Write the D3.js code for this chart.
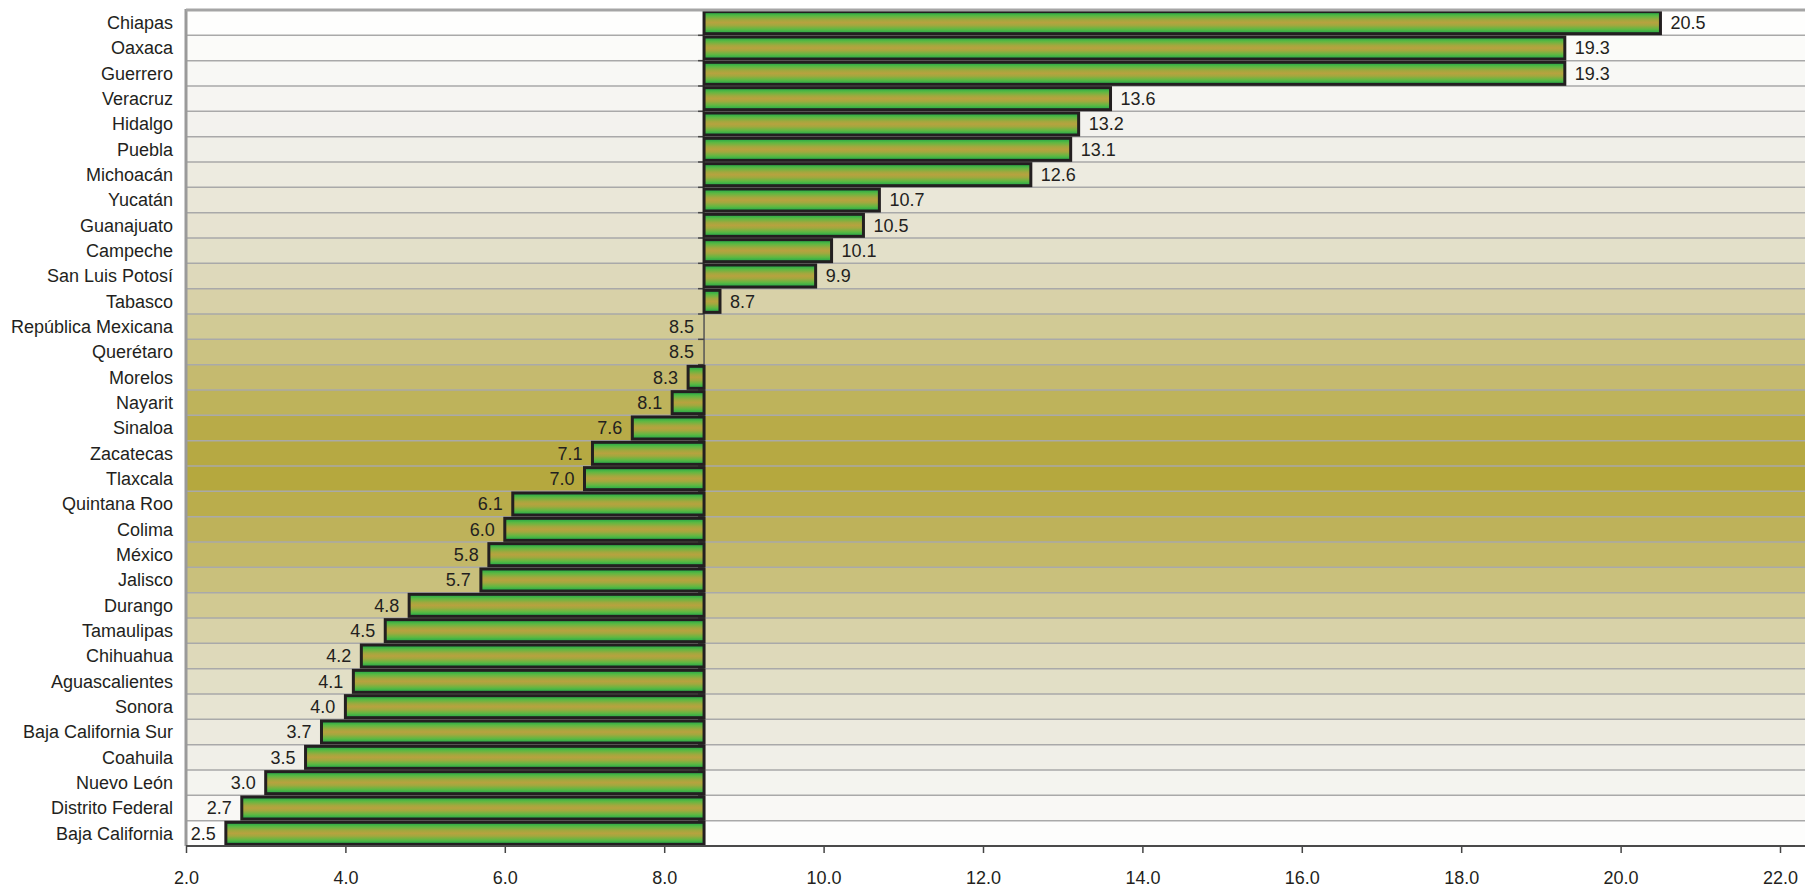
<!DOCTYPE html>
<meta charset="utf-8">
<style>
body { margin: 0; background: #fff; }
text { font-family: "Liberation Sans", Arial, sans-serif; fill: #231f20; }
</style>
<svg width="1805" height="887"></svg>
<script src="https://cdn.jsdelivr.net/npm/d3@7"></script>
<script>

var states = ["Chiapas", "Oaxaca", "Guerrero", "Veracruz", "Hidalgo", "Puebla", "Michoacán",
  "Yucatán", "Guanajuato", "Campeche", "San Luis Potosí", "Tabasco", "República Mexicana",
  "Querétaro", "Morelos", "Nayarit", "Sinaloa", "Zacatecas", "Tlaxcala", "Quintana Roo",
  "Colima", "México", "Jalisco", "Durango", "Tamaulipas", "Chihuahua", "Aguascalientes",
  "Sonora", "Baja California Sur", "Coahuila", "Nuevo León", "Distrito Federal", "Baja California"];

var values = [20.5, 19.3, 19.3, 13.6, 13.2, 13.1, 12.6, 10.7, 10.5, 10.1, 9.9, 8.7, 8.5,
  8.5, 8.3, 8.1, 7.6, 7.1, 7.0, 6.1, 6.0, 5.8, 5.7, 4.8, 4.5, 4.2, 4.1,
  4.0, 3.7, 3.5, 3.0, 2.7, 2.5];

var xTicks = [2, 4, 6, 8, 10, 12, 14, 16, 18, 20, 22];
var baseValue = 8.5;

var rows = states.map(function(s, i) { return {state: s, value: values[i]}; });

var svg = d3.select("svg"),
    plotLeft = 186, plotTop = 10, plotBottom = 846, plotRight = 1805;

var x = d3.scaleLinear().domain([2, 22]).range([plotLeft, 1780]);
var y = d3.scaleBand().domain(states).range([plotTop, plotBottom]).paddingInner(0.13).paddingOuter(0.065);

// row backgrounds (banded gradient)
var bg = d3.scaleLinear()
    .domain([0, 0.15, 0.3, 0.4, 0.5, 0.56, 0.66, 0.76, 0.88, 1])
    .range(["#ffffff", "#f2f1ec", "#e2dec6", "#cdc488", "#b8ab48", "#b5a83e", "#c4b96c", "#dcd7b5", "#eeede5", "#ffffff"]);

var step = (plotBottom - plotTop) / states.length;
svg.append("g").selectAll("rect")
  .data(states)
  .enter().append("rect")
    .attr("x", plotLeft)
    .attr("y", function(d, i) { return plotTop + i * step; })
    .attr("width", plotRight - plotLeft)
    .attr("height", step)
    .style("fill", function(d, i) { return bg((i + 0.5) / states.length); });

// grid lines between rows
svg.append("g").selectAll("line")
  .data(d3.range(1, states.length))
  .enter().append("line")
    .attr("x1", plotLeft).attr("x2", plotRight)
    .attr("y1", function(i) { return plotTop + i * step; })
    .attr("y2", function(i) { return plotTop + i * step; })
    .style("stroke", "#a9a9a9")
    .style("stroke-width", 1.5);

// bar gradient
var grad = svg.append("defs").append("linearGradient")
    .attr("id", "barfill")
    .attr("x1", 0).attr("y1", 0).attr("x2", 0).attr("y2", 1);
[["0", "#17a84a"], ["0.2", "#5fb842"], ["0.38", "#a2a83e"], ["0.5", "#b7a23f"],
 ["0.62", "#a2a83e"], ["0.8", "#5fb842"], ["1", "#17a84a"]].forEach(function(s) {
  grad.append("stop").attr("offset", s[0]).attr("stop-color", s[1]);
});

// category axis at the crossing value
var catAxis = svg.append("g");
catAxis.append("line")
    .attr("x1", x(baseValue)).attr("x2", x(baseValue))
    .attr("y1", plotTop).attr("y2", plotBottom)
    .style("stroke", "#555").style("stroke-width", 1.5);
catAxis.selectAll(".tk")
  .data(d3.range(0, states.length + 1))
  .enter().append("line")
    .attr("x1", x(baseValue) - 6).attr("x2", x(baseValue))
    .attr("y1", function(i) { return plotTop + i * step; })
    .attr("y2", function(i) { return plotTop + i * step; })
    .style("stroke", "#444").style("stroke-width", 1.5);

// bars
svg.append("g").selectAll("rect")
  .data(rows.filter(function(d) { return d.value !== baseValue; }))
  .enter().append("rect")
    .attr("x", function(d) { return x(Math.min(d.value, baseValue)); })
    .attr("y", function(d) { return y(d.state); })
    .attr("width", function(d) { return Math.abs(x(d.value) - x(baseValue)); })
    .attr("height", y.bandwidth())
    .style("fill", "url(#barfill)")
    .style("stroke", "#231f20")
    .style("stroke-width", 3);

// value labels
svg.append("g").selectAll("text")
  .data(rows)
  .enter().append("text")
    .attr("x", function(d) { return d.value > baseValue ? x(d.value) + 10 : x(d.value) - 10; })
    .attr("y", function(d) { return y(d.state) + y.bandwidth() / 2; })
    .attr("dy", "0.36em")
    .attr("text-anchor", function(d) { return d.value > baseValue ? "start" : "end"; })
    .style("font-size", "18px")
    .text(function(d) { return d.value.toFixed(1); });

// category labels
svg.append("g").selectAll("text")
  .data(states)
  .enter().append("text")
    .attr("x", 173)
    .attr("y", function(d) { return y(d) + y.bandwidth() / 2; })
    .attr("dy", "0.36em")
    .attr("text-anchor", "end")
    .style("font-size", "18px")
    .text(function(d) { return d; });

// plot border (left and top)
svg.append("line")
    .attr("x1", plotLeft).attr("x2", plotLeft).attr("y1", plotTop - 1).attr("y2", plotBottom)
    .style("stroke", "#9a9a9a").style("stroke-width", 3);
svg.append("line")
    .attr("x1", plotLeft).attr("x2", plotRight).attr("y1", plotTop).attr("y2", plotTop)
    .style("stroke", "#a5a5a5").style("stroke-width", 3);

// x axis
var xAxis = svg.append("g")
    .attr("transform", "translate(0," + plotBottom + ")")
    .call(d3.axisBottom(x).tickValues(xTicks).tickSize(7).tickPadding(18).tickFormat(d3.format(".1f")));
xAxis.select(".domain").remove();
xAxis.append("line")
    .attr("x1", plotLeft).attr("x2", plotRight)
    .style("stroke", "#4a4a4a").style("stroke-width", 2);
xAxis.selectAll(".tick line").style("stroke", "#444").style("stroke-width", 1.5);
xAxis.selectAll(".tick text")
    .style("font-size", "18px")
    .style("font-family", "'Liberation Sans', Arial, sans-serif")
    .style("fill", "#231f20");

</script>
